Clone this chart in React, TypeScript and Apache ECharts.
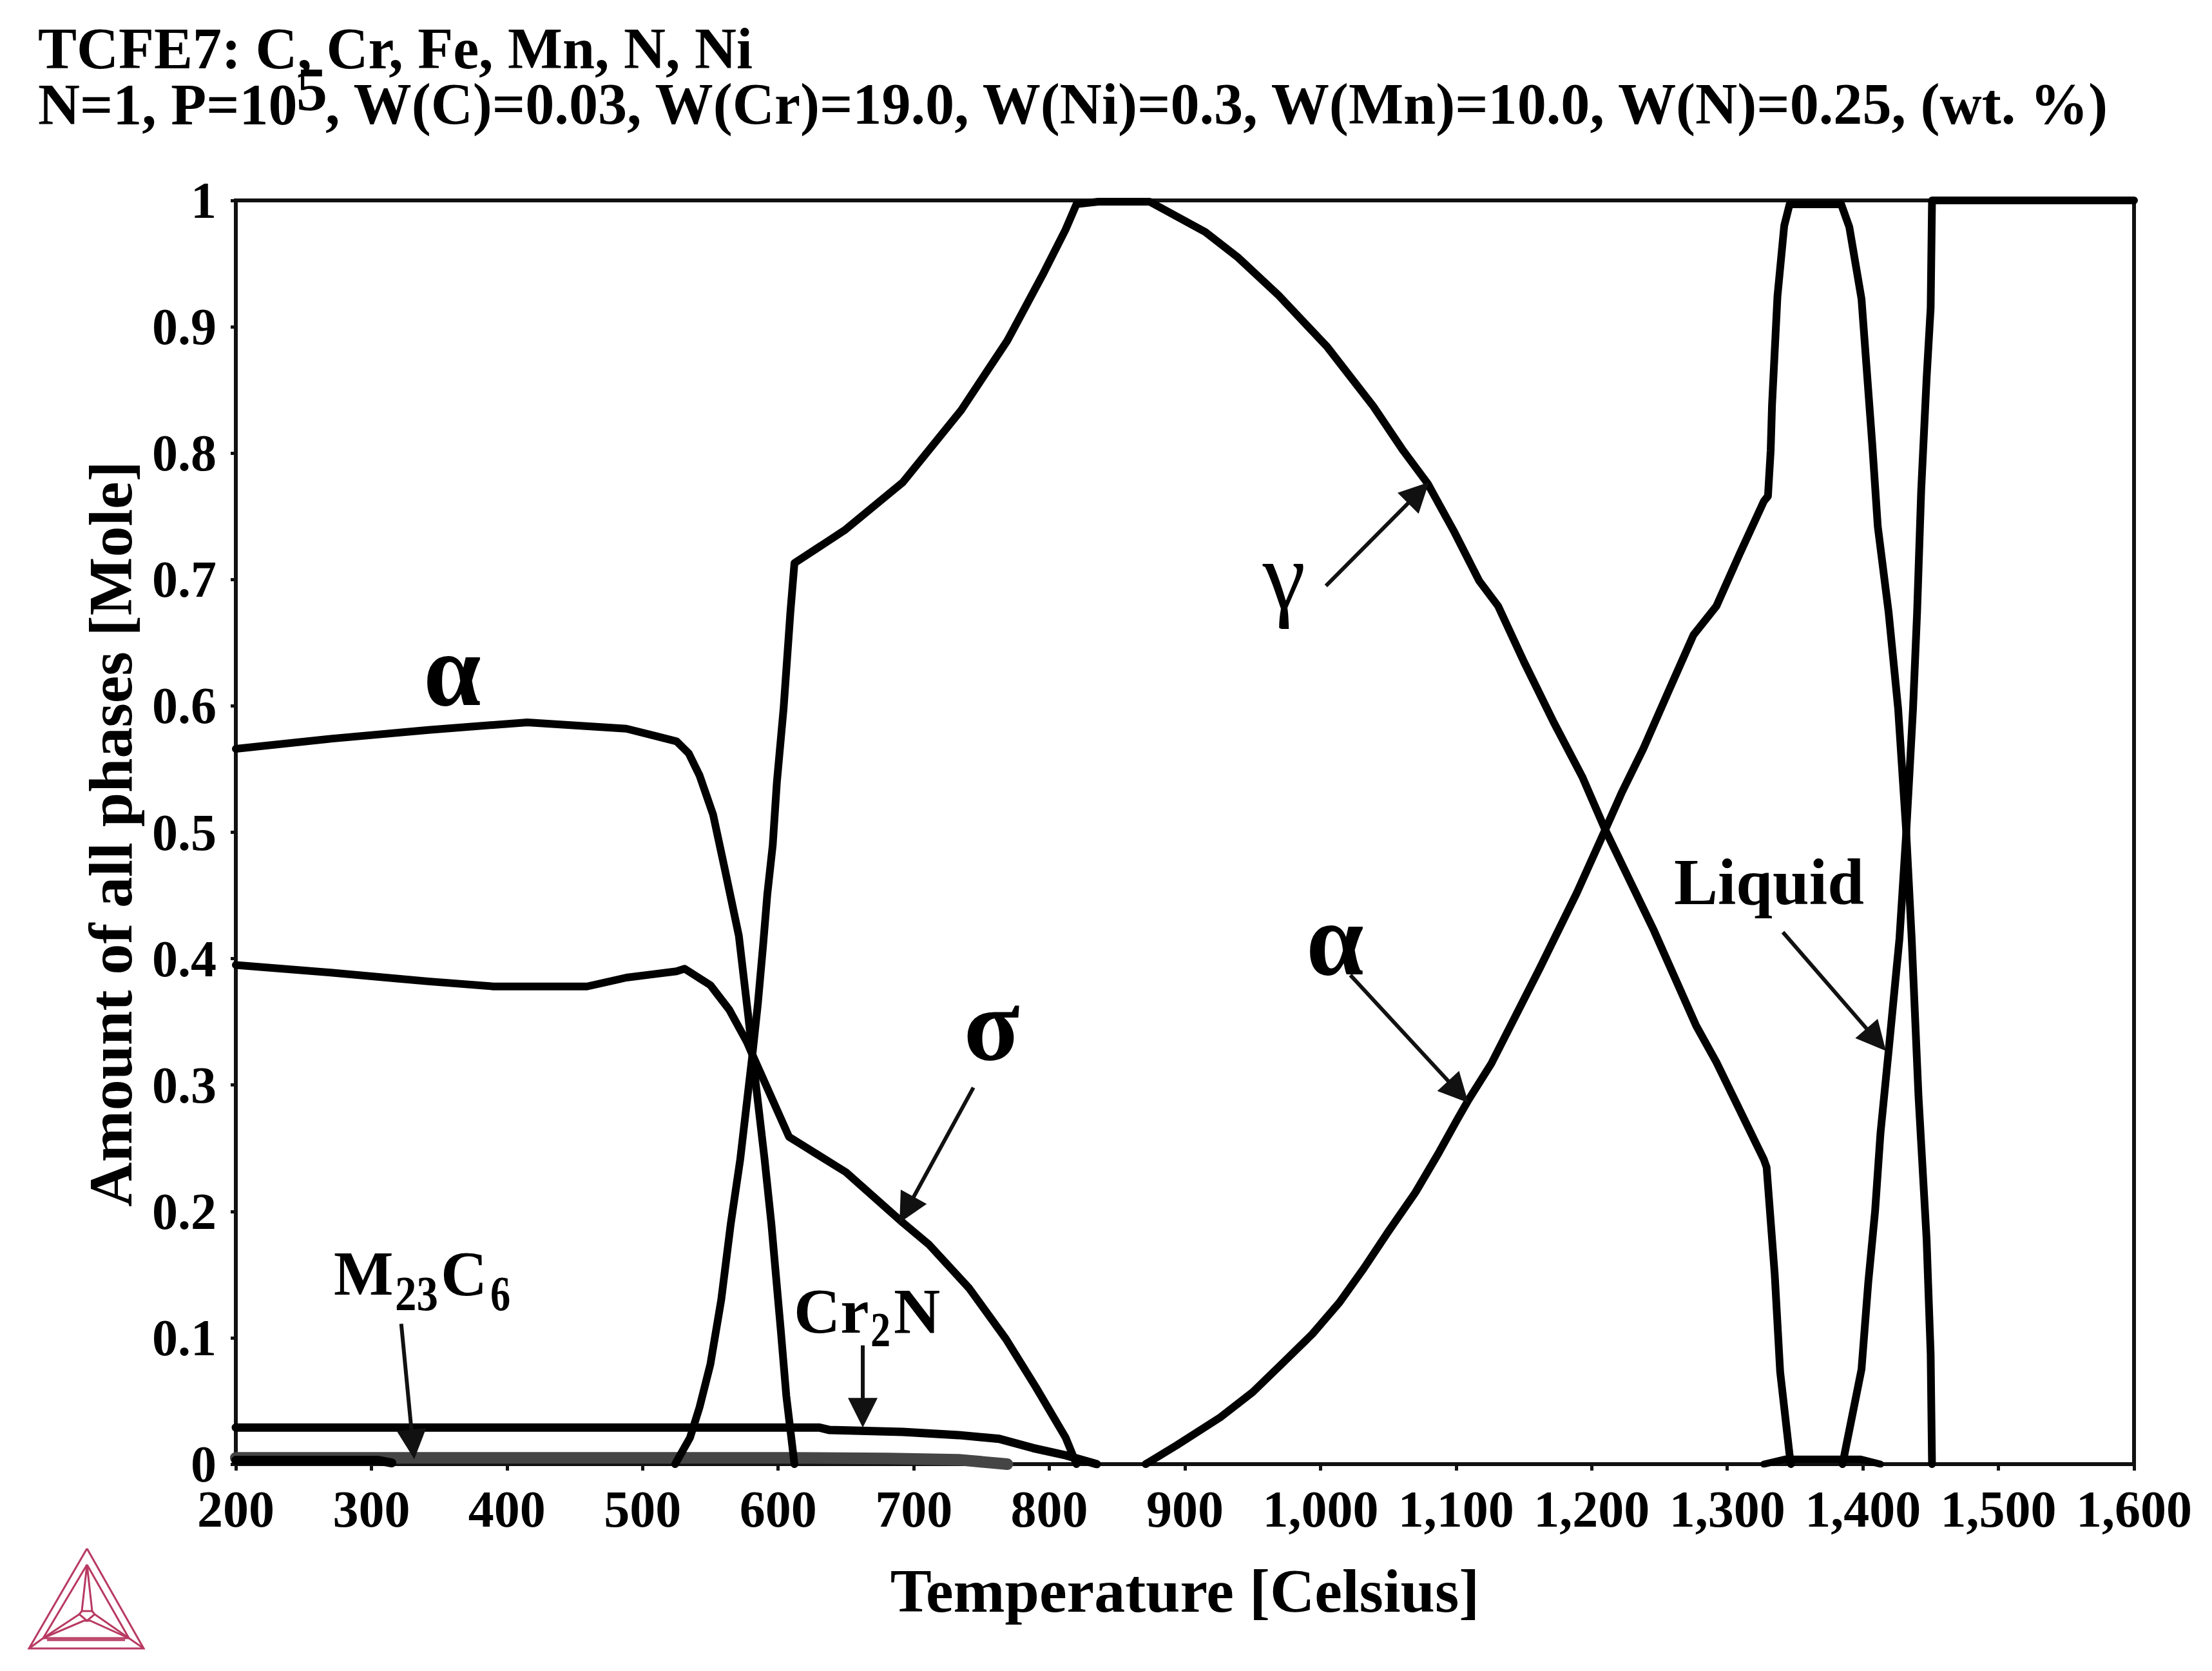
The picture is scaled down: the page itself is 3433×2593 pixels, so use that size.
import React, { useEffect, useRef } from "react";
import * as echarts from "echarts";

const SERIF = '"Liberation Serif", "Times New Roman", serif';

const titleLine1 = "TCFE7: C, Cr, Fe, Mn, N, Ni";
const titleLine2a = "N=1, P=10";
const titleSup = "5";
const titleLine2b = ", W(C)=0.03, W(Cr)=19.0, W(Ni)=0.3, W(Mn)=10.0, W(N)=0.25, (wt. %)";
const xAxisName = "Temperature [Celsius]";
const yAxisName = "Amount of all phases [Mole]";

const alphaLow: [number, number][] = [
  [200, 0.566], [270, 0.574], [342, 0.581], [415, 0.587], [488, 0.582], [525, 0.572], [534, 0.5625],
  [542, 0.545], [552, 0.514], [561, 0.469], [571, 0.418], [578, 0.354], [581, 0.324], [590, 0.241],
  [595, 0.19], [602, 0.105], [606, 0.054], [612, 0],
];
const sigma: [number, number][] = [
  [200, 0.395], [270, 0.389], [342, 0.382], [390, 0.378], [459, 0.378], [488, 0.385], [525, 0.39],
  [531, 0.392], [550, 0.379], [564, 0.3595], [577, 0.334], [581, 0.324], [608, 0.259], [650, 0.231],
  [692, 0.191], [711, 0.174], [741, 0.139], [768, 0.099], [790, 0.061], [812, 0.021], [820, 0],
];
const gamma: [number, number][] = [
  [524, 0], [535, 0.021], [542, 0.045], [550, 0.079], [558, 0.13], [565, 0.19], [572, 0.241],
  [581, 0.324], [585, 0.364], [589, 0.412], [592, 0.451], [596, 0.49], [599, 0.539], [604, 0.598],
  [609, 0.674], [612, 0.713], [649, 0.739], [692, 0.777], [735, 0.834], [769, 0.889], [795, 0.941],
  [812, 0.977], [820, 0.997], [836, 0.999], [874, 0.999], [915, 0.975], [939, 0.955], [969, 0.925],
  [1005, 0.884], [1039, 0.837], [1061, 0.802], [1079, 0.776], [1098, 0.739], [1117, 0.699],
  [1131, 0.679], [1150, 0.635], [1172, 0.587], [1193, 0.544], [1210, 0.502], [1246, 0.422],
  [1277, 0.347], [1292, 0.318], [1327, 0.241], [1329, 0.235], [1335, 0.15], [1339, 0.073],
  [1346, 0.007], [1347, 0],
];
const alphaHigh: [number, number][] = [
  [871, 0], [894, 0.015], [926, 0.037], [950, 0.057], [974, 0.082], [994, 0.103], [1014, 0.128],
  [1032, 0.155], [1050, 0.184], [1070, 0.215], [1087, 0.246], [1101, 0.273], [1109, 0.288],
  [1126, 0.317], [1162, 0.393], [1189, 0.452], [1210, 0.502], [1222, 0.531], [1238, 0.566],
  [1256, 0.61], [1275, 0.656], [1292, 0.679], [1309, 0.72], [1327, 0.762], [1330, 0.766],
  [1332, 0.802], [1333, 0.838], [1337, 0.924], [1342, 0.98], [1346, 0.997], [1384, 0.997],
  [1390, 0.979], [1399, 0.922], [1407, 0.806], [1411, 0.742], [1419, 0.674], [1426, 0.598],
  [1432, 0.5], [1436, 0.416], [1441, 0.292], [1447, 0.178], [1450, 0.087], [1451, 0],
];
const liquid: [number, number][] = [
  [1385, 0], [1399, 0.075], [1404, 0.144], [1409, 0.2], [1413, 0.262], [1419, 0.327], [1427, 0.416],
  [1432, 0.5], [1437, 0.598], [1440, 0.674], [1443, 0.77], [1447, 0.859], [1450, 0.915], [1451, 1],
  [1600, 1],
];
const cr2n: [number, number][] = [
  [200, 0.029], [630, 0.029], [638, 0.027], [692, 0.0255], [733, 0.023], [763, 0.02], [788, 0.0127],
  [812, 0.007], [835, 0],
];
const m23c6: [number, number][] = [
  [200, 0.005], [605, 0.005], [681, 0.0045], [733, 0.0035], [769, 0],
];
const m23c6Dark: [number, number][] = [[200, 0.003], [305, 0.003], [315, 0.001]];
const bcc: [number, number][] = [[1327, 0], [1343, 0.004], [1398, 0.004], [1413, 0]];

// annotation arrows: [fromT, fromV, tipT, tipV]
const arrows: [number, number, number, number][] = [
  [322, 0.111, 331.6, 0.004],
  [662.4, 0.094, 662.4, 0.029],
  [744, 0.298, 689.5, 0.191],
  [1004, 0.695, 1080, 0.777],
  [1022, 0.387, 1109, 0.286],
  [1341, 0.421, 1417, 0.327],
];

const G = { left: 366, top: 311, width: 2946, height: 1961 };
const HEAD = 46;

function arrowPairs() {
  const sx = G.width / 1400;
  const sy = G.height;
  return arrows.map(([a, b, c, d]) => {
    const dx = (c - a) * sx;
    const dy = (d - b) * sy;
    const len = Math.hypot(dx, dy);
    const back = HEAD / 2 / len;
    return [
      { coord: [a, b] },
      { coord: [c - (c - a) * back, d - (d - b) * back] },
    ];
  });
}

// logo strokes in page pixels
const logoLines: number[][][] = [
  [[135, 2403], [45, 2558], [223, 2558], [135, 2403]],
  [[135, 2428], [67, 2542], [200, 2542], [135, 2428]],
  [[45, 2558], [67, 2542]],
  [[223, 2558], [200, 2542]],
  [[73, 2545], [194, 2545]],
  [[135, 2428], [127, 2500], [143, 2500], [135, 2428]],
  [[127, 2500], [123, 2505], [135, 2515], [147, 2505], [143, 2500]],
  [[67, 2542], [123, 2505]],
  [[67, 2542], [130, 2515], [135, 2515], [140, 2515], [200, 2542]],
  [[200, 2542], [147, 2505]],
];

function txt(text: string, x: number, y: number, fontSize: number, fontWeight: string, extra: any = {}) {
  const { rotation, scaleX, ...style } = extra;
  return {
    type: "text",
    x,
    y,
    rotation: rotation || 0,
    scaleX: scaleX || 1,
    silent: true,
    style: {
      text,
      fontSize,
      fontWeight,
      fontFamily: SERIF,
      fill: "#000",
      textAlign: "left",
      textVerticalAlign: "middle",
      ...style,
    },
  };
}

export default function App() {
  const ref = useRef<HTMLDivElement>(null);
  useEffect(() => {
    const chart = echarts.init(ref.current!, undefined, { renderer: "svg" });
    const line = (name: string, data: [number, number][], width = 12, color = "#000") => ({
      name,
      type: "line",
      data,
      showSymbol: false,
      symbol: "none",
      silent: true,
      lineStyle: { color, width, join: "round", cap: "round" },
      z: 3,
    });
    chart.setOption({
      animation: false,
      backgroundColor: "#fff",
      grid: { ...G, show: true, borderColor: "#111", borderWidth: 6, backgroundColor: "transparent" },
      xAxis: {
        type: "value",
        min: 200,
        max: 1600,
        interval: 100,
        splitLine: { show: false },
        axisLine: { show: true, lineStyle: { color: "#111", width: 6 } },
        axisTick: { show: true, length: 10, inside: false, lineStyle: { color: "#111", width: 5 } },
        axisLabel: {
          fontFamily: SERIF,
          fontWeight: "bold",
          fontSize: 80,
          color: "#000",
          margin: 30,
          showMinLabel: true,
          showMaxLabel: true,
          formatter: (v: number) => v.toLocaleString("en-US"),
        },
      },
      yAxis: {
        type: "value",
        min: 0,
        max: 1,
        interval: 0.1,
        splitLine: { show: false },
        axisLine: { show: true, lineStyle: { color: "#111", width: 6 } },
        axisTick: { show: true, length: 8, lineStyle: { color: "#111", width: 5 } },
        axisLabel: {
          fontFamily: SERIF,
          fontWeight: "bold",
          fontSize: 80,
          color: "#000",
          margin: 30,
          formatter: (v: number) => String(Math.round(v * 10) / 10),
        },
      },
      series: [
        line("M23C6", m23c6, 18, "#454545"),
        line("M23C6 low", m23c6Dark, 14),
        line("Cr2N", cr2n, 13),
        line("alpha low", alphaLow),
        line("sigma", sigma),
        line("gamma", gamma),
        line("alpha high", alphaHigh),
        line("liquid", liquid),
        line("high-temp phase", bcc, 11),
        {
          name: "arrows",
          type: "line",
          data: [],
          markLine: {
            silent: true,
            animation: false,
            symbol: ["none", "triangle"],
            symbolSize: HEAD,
            precision: 6,
            label: { show: false },
            lineStyle: { color: "#111", width: 6, type: "solid" },
            data: arrowPairs(),
          },
          z: 5,
        },
      ],
      graphic: [
        txt(titleLine1, 59, 75, 90, "bold"),
        txt(titleLine2a, 59, 162, 90, "bold"),
        txt(titleSup, 460, 138, 96, "bold"),
        txt(titleLine2b, 505, 162, 90.2, "bold"),
        txt(xAxisName, 1839, 2468, 96, "bold", { textAlign: "center" }),
        txt(yAxisName, 171, 1294, 96, "bold", { textAlign: "center", rotation: Math.PI / 2 }),
        txt("α", 702, 1040, 160, "bold", { textAlign: "center" }),
        txt("σ", 1539, 1590, 160, "bold", { textAlign: "center" }),
        txt("γ", 1993, 893, 150, "normal", { textAlign: "center" }),
        txt("α", 2072, 1458, 160, "bold", { textAlign: "center" }),
        txt("Liquid", 2598, 1368, 102, "bold"),
        txt("M", 518, 1976, 98, "bold"),
        txt("23", 613, 2007, 76, "bold", { scaleX: 0.88 }),
        txt("C", 684, 1976, 100, "bold"),
        txt("6", 761, 2007, 76, "bold", { scaleX: 0.82 }),
        txt("Cr", 1232, 2034, 100, "bold"),
        txt("2", 1351, 2063, 76, "bold", { scaleX: 0.82 }),
        txt("N", 1387, 2034, 100, "bold"),
        ...logoLines.map((pts) => ({
          type: "polyline",
          silent: true,
          shape: { points: pts },
          style: { stroke: "#b83a62", lineWidth: 3, fill: "none" },
        })),
      ],
    });
    return () => chart.dispose();
  }, []);
  return <div ref={ref} style={{ position: "absolute", left: 0, top: 0, width: 3433, height: 2593 }} />;
}
